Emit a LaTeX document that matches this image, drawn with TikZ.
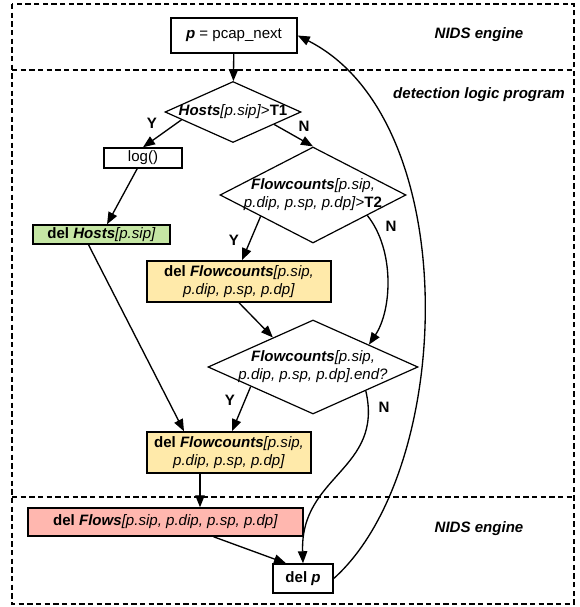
\documentclass[tikz,border=0pt]{standalone}
\usepackage{fontspec}
\setsansfont{Liberation Sans}
\usetikzlibrary{arrows.meta, shapes.geometric, calc}
\definecolor{hostgreen}{RGB}{197,230,164}
\definecolor{countyellow}{RGB}{255,234,170}
\definecolor{flowpink}{RGB}{255,183,175}
\newcommand{\bi}[1]{\textbf{\textit{#1}}}
\tikzset{
    txt/.style={
        font=\fontsize{11.3}{13.5}\selectfont\sffamily, align=center
    },
    stepbox/.style={
        rectangle, draw=black, fill=white,
        line width=1.1pt, inner sep=0pt, txt
    },
    test/.style={
        diamond, shape aspect=2, draw=black, fill=white,
        line width=0.9pt, inner sep=-15pt, txt
    },
    arrow/.style={-{Triangle[length=9pt, width=7pt]}, line width=1pt, draw=black},
    zone/.style={draw=black, line width=1pt, dash pattern=on 4pt off 2.5pt},
    zonelabel/.style={txt, font=\fontsize{11.3}{13.5}\selectfont\sffamily\bfseries\itshape},
    yn/.style={txt, font=\fontsize{11.3}{13.5}\selectfont\sffamily\bfseries}
}

\begin{document}
\begin{tikzpicture}[x=0.75pt, y=-0.75pt]
    \useasboundingbox (0,0) rectangle (580,607);

    % zones
    \draw[zone] (12,4) rectangle (574,604);
    \draw[zone] (12,70) -- (574,70);
    \draw[zone] (12,497) -- (574,497);
    \node[zonelabel] (zeng) at (479,35) {NIDS engine};
    \node[zonelabel] (zdet) at (479,95) {detection logic program};
    \node[zonelabel] (zend) at (479,529) {NIDS engine};

    % steps and tests
    \node[stepbox, minimum width=94.5pt, minimum height=26.25pt] (pcap) at (234,35.5) {\bi{p} = pcap\_next};
    \node[test, minimum width=102pt, minimum height=45.75pt] (h1) at (233,112) {\bi{Hosts}\textit{[p.sip]}>\textbf{T1}};
    \node[stepbox, minimum width=58.5pt, minimum height=15pt] (log) at (143,158) {log()};
    \node[stepbox, fill=hostgreen, minimum width=102.75pt, minimum height=14.25pt] (dh) at (101.5,234.5) {\textbf{del} \bi{Hosts}\textit{[p.sip]}};
    \node[test, minimum width=139.5pt, minimum height=72pt] (t2) at (313,195) {\bi{Flowcounts}\textit{[p.sip,}\\\textit{p.dip, p.sp, p.dp]}>\textbf{T2}};
    \node[stepbox, fill=countyellow, minimum width=138pt, minimum height=30.75pt] (fc1) at (239,281.5) {\textbf{del} \bi{Flowcounts}\textit{[p.sip,}\\\textit{p.dip, p.sp, p.dp]}};
    \node[test, minimum width=157.5pt, minimum height=70.5pt] (end) at (313,367) {\bi{Flowcounts}\textit{[p.sip,}\\\textit{p.dip, p.sp, p.dp].end?}};
    \node[stepbox, fill=countyellow, minimum width=123pt, minimum height=30.75pt] (fc2) at (229,452.5) {\textbf{del} \bi{Flowcounts}\textit{[p.sip,}\\\textit{p.dip, p.sp, p.dp]}};
    \node[stepbox, fill=flowpink, minimum width=206.25pt, minimum height=21pt] (fl) at (165.5,522) {\textbf{del} \bi{Flows}\textit{[p.sip, p.dip, p.sp, p.dp]}};
    \node[stepbox, minimum width=45pt, minimum height=21.75pt] (delp) at (303,578.5) {\textbf{del} \bi{p}};

    % Y / N labels
    \node[yn] (y1) at (152,123) {Y};
    \node[yn] (n1) at (304,126) {N};
    \node[yn] (y2) at (234,240) {Y};
    \node[yn] (n2) at (391,226) {N};
    \node[yn] (y3) at (230,400) {Y};
    \node[yn] (n3) at (384,407) {N};

    % connectors
    \draw[arrow] (pcap) -- (h1);
    \draw[arrow] ($(h1.west)!0.25!(h1.south)$) -- (log.north);
    \draw[arrow] ($(h1.east)!0.4!(h1.south)$) -- (t2.north);
    \draw[arrow] (log) -- (dh);
    \draw[arrow] ([xshift=-9.75pt]dh.south) -- ([xshift=-33.75pt]fc2.north);
    \draw[arrow] ($(t2.west)!0.44!(t2.south)$) -- ([xshift=2.25pt]fc1.north);
    \draw[arrow] ($(t2.east)!0.42!(t2.south)$) .. controls (395,250) and (392,310) .. ($(end.east)!0.47!(end.north)$);
    \draw[arrow] (fc1.south) -- ($(end.west)!0.62!(end.north)$);
    \draw[arrow] ($(end.west)!0.41!(end.south)$) -- ([xshift=2.25pt]fc2.north);
    \draw[arrow] (end.south east) .. controls (384,470) and (300,475) .. (delp.north);
    \draw[arrow] ([xshift=-21.75pt]fc2.south) -- ([xshift=-21.75pt]fc2.south |- fl.north);
    \draw[arrow] ([xshift=36pt]fl.south) -- ([xshift=-12.75pt]delp.north);
    \draw[arrow] (delp.east) .. controls (455,470) and (465,120) .. (pcap.east);
\end{tikzpicture}
\end{document}
